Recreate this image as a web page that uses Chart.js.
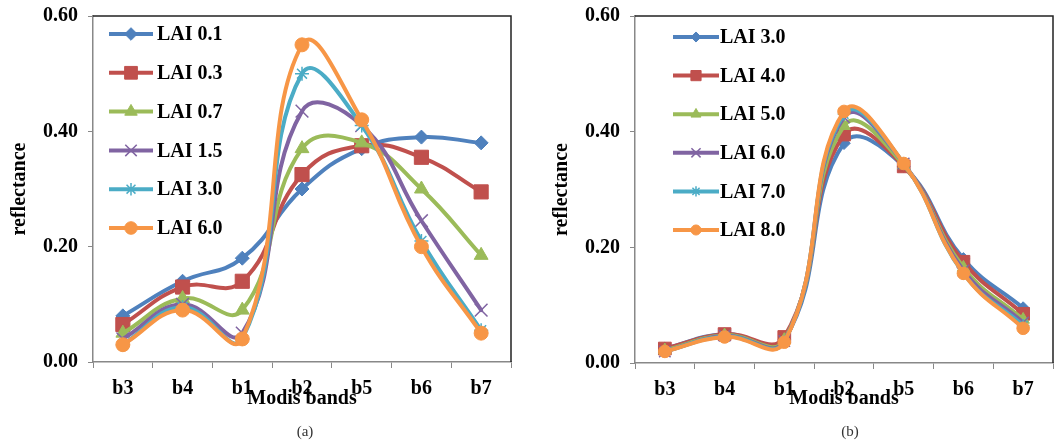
<!DOCTYPE html>
<html>
<head>
<meta charset="utf-8">
<script src="https://cdn.jsdelivr.net/npm/chart.js@4/dist/chart.umd.min.js"></script>
<style>
  body { margin: 0; background: #fff; overflow: hidden; }
  .panel { position: absolute; top: 0; height: 445px; }
  .caption { position: absolute; top: 423px; font: 15px "Liberation Serif", serif; color: #333; transform: translateX(-50%); }
</style>
</head>
<body>
<div class="panel" style="left:0;width:530px"><canvas id="chartA" width="530" height="445"></canvas></div>
<div class="panel" style="left:530px;width:533px"><canvas id="chartB" width="533" height="445"></canvas></div>
<div class="caption" style="left:305px">(a)</div>
<div class="caption" style="left:850px">(b)</div>
<script>
// === DATA ===
const bands = ["b3", "b4", "b1", "b2", "b5", "b6", "b7"];
const yTicks = [0, 0.2, 0.4, 0.6];

// panel (a): low LAI
const labelsA = ["LAI 0.1", "LAI 0.3", "LAI 0.7", "LAI 1.5", "LAI 3.0", "LAI 6.0"];
const lai01 = [0.08, 0.14, 0.18, 0.30, 0.37, 0.39, 0.38];
const lai03 = [0.065, 0.13, 0.14, 0.325, 0.375, 0.355, 0.295];
const lai07 = [0.05, 0.11, 0.09, 0.37, 0.38, 0.30, 0.185];
const lai15 = [0.04, 0.10, 0.05, 0.435, 0.41, 0.245, 0.09];
const lai30a = [0.03, 0.095, 0.04, 0.50, 0.41, 0.21, 0.055];
const lai60a = [0.03, 0.09, 0.04, 0.55, 0.42, 0.20, 0.05];

// panel (b): high LAI
const labelsB = ["LAI 3.0", "LAI 4.0", "LAI 5.0", "LAI 6.0", "LAI 7.0", "LAI 8.0"];
const lai30b = [0.025, 0.05, 0.04, 0.38, 0.34, 0.18, 0.095];
const lai40 = [0.025, 0.05, 0.045, 0.395, 0.34, 0.175, 0.085];
const lai50 = [0.022, 0.048, 0.04, 0.41, 0.342, 0.165, 0.075];
const lai60b = [0.02, 0.047, 0.038, 0.425, 0.345, 0.16, 0.07];
const lai70 = [0.02, 0.046, 0.037, 0.43, 0.345, 0.155, 0.065];
const lai80 = [0.02, 0.045, 0.036, 0.435, 0.345, 0.155, 0.06];

// === STYLE ===
const colors = ["#4F81BD", "#C0504D", "#9BBB59", "#8064A2", "#4BACC6", "#F79646"];
const markers = ["rectRot", "rect", "triangle", "crossRot", "star", "circle"];
const markerSize = [7, 10, 8, 9, 7, 7];
const FONT = "'Liberation Serif', 'Times New Roman', serif";

function makeDatasets(labels, series, sizeScale) {
  return series.map((data, i) => ({
    label: labels[i],
    data: data,
    order: series.length - i, // later series drawn on top
    borderColor: colors[i],
    backgroundColor: colors[i],
    borderWidth: 4,
    borderJoinStyle: "round",
    borderCapStyle: "round",
    tension: 0.45,
    pointStyle: markers[i],
    pointRadius: markerSize[i] * sizeScale,
    pointBackgroundColor: colors[i],
    pointBorderColor: colors[i],
    pointBorderWidth: markers[i] === "crossRot" || markers[i] === "star" ? 1.5 : 1,
  }));
}

// legend drawn inside the plot: short line with the marker in the middle
const insideLegend = {
  id: "insideLegend",
  afterDraw(chart, args, opts) {
    const ctx = chart.ctx;
    const area = chart.chartArea;
    chart.data.datasets.forEach((ds, i) => {
      const y = area.top + opts.top + i * opts.gap;
      const x0 = area.left + opts.left;
      const x1 = x0 + opts.lineLength;
      ctx.save();
      ctx.strokeStyle = ds.borderColor;
      ctx.lineWidth = ds.borderWidth;
      ctx.beginPath();
      ctx.moveTo(x0, y);
      ctx.lineTo(x1, y);
      ctx.stroke();
      ctx.fillStyle = ds.pointBackgroundColor;
      ctx.strokeStyle = ds.pointBorderColor;
      ctx.lineWidth = ds.pointBorderWidth;
      Chart.helpers.drawPoint(ctx, {
        pointStyle: ds.pointStyle,
        radius: ds.pointRadius * opts.pointScale,
        borderWidth: ds.pointBorderWidth,
        rotation: 0,
      }, (x0 + x1) / 2, y);
      ctx.fillStyle = "#000";
      ctx.font = "bold 20px " + FONT;
      ctx.textBaseline = "middle";
      ctx.textAlign = "left";
      ctx.fillText(ds.label, x1 + opts.textGap, y + 1);
      ctx.restore();
    });
  },
};

// black frame on top and right of the plot area
const plotFrame = {
  id: "plotFrame",
  beforeDatasetsDraw(chart) {
    const { ctx, chartArea: a } = chart;
    ctx.save();
    ctx.strokeStyle = "#222";
    ctx.lineWidth = 1.5;
    ctx.beginPath();
    ctx.moveTo(a.left, a.top);
    ctx.lineTo(a.right, a.top);
    ctx.lineTo(a.right, a.bottom);
    ctx.stroke();
    ctx.restore();
  },
};

function makeChart(id, datasets, cfg) {
  return new Chart(document.getElementById(id), {
    type: "line",
    data: { labels: bands, datasets: datasets },
    plugins: [plotFrame, insideLegend],
    options: {
      responsive: false,
      animation: false,
      layout: { padding: { top: 16, right: cfg.padRight, left: 0, bottom: 0 } },
      plugins: {
        legend: { display: false },
        tooltip: { enabled: false },
        insideLegend: cfg.legend,
      },
      scales: {
        x: {
          offset: true,
          grid: { offset: true, drawOnChartArea: false, color: "#888", tickLength: 6 },
          border: { color: "#888", width: 1.5 },
          ticks: { color: "#000", padding: 9, font: { family: FONT, size: 20, weight: "bold" } },
          title: {
            display: true, text: "Modis bands", color: "#000",
            font: { family: FONT, size: 20, weight: "bold" },
            padding: { top: 0, bottom: 34 },
          },
          afterFit: (s) => { s.height = cfg.xHeight; },
        },
        y: {
          min: 0, max: 0.6,
          afterBuildTicks: (s) => { s.ticks = yTicks.map((v) => ({ value: v })); },
          grid: { drawOnChartArea: false, color: "#888", tickLength: 5 },
          border: { color: "#888", width: 1.5 },
          ticks: {
            color: "#000", padding: 10,
            font: { family: FONT, size: 20, weight: "bold", lineHeight: 0.6 },
            callback: (v) => v.toFixed(2),
          },
          title: {
            display: true, text: "reflectance", color: "#000",
            font: { family: FONT, size: 20, weight: "bold" },
            padding: { top: cfg.yTitlePad, bottom: 0 },
          },
          afterFit: (s) => { s.width = cfg.yWidth; },
        },
      },
    },
  });
}

makeChart("chartA",
  makeDatasets(labelsA, [lai01, lai03, lai07, lai15, lai30a, lai60a], 1),
  {
    padRight: 19, xHeight: 83, yWidth: 93, yTitlePad: 8,
    legend: { left: 16, top: 18, gap: 38.8, lineLength: 44, textGap: 4, pointScale: 0.9 },
  });

makeChart("chartB",
  makeDatasets(labelsB, [lai30b, lai40, lai50, lai60b, lai70, lai80], 0.9),
  {
    padRight: 0, xHeight: 82, yWidth: 105, yTitlePad: 20,
    legend: { left: 38, top: 21, gap: 38.6, lineLength: 46, textGap: 1, pointScale: 0.8 },
  });
</script>
</body>
</html>
